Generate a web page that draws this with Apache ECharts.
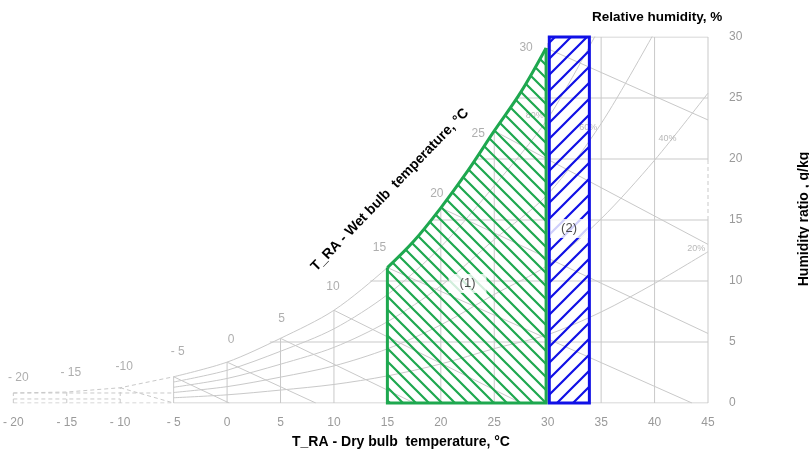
<!DOCTYPE html>
<html><head><meta charset="utf-8">
<script src="https://cdn.jsdelivr.net/npm/echarts@6/dist/echarts.min.js"></script>
<style>html,body{margin:0;padding:0;background:#fff}#c{width:809px;height:456px}</style>
</head><body><div id="c"></div>
<script>
// ---------- data ----------
const xTickLabels = ['- 20','- 15','- 10','- 5','0','5','10','15','20','25','30','35','40','45'];
const yTickLabels = ['0','5','10','15','20','25','30'];

// saturation curve (100 % RH): cold dashed part and solid part
const satColdT = [-20, -15, -10, -5];
const satColdW = [0.82, 0.9, 1.25, 2.15];
const satT = [-5, 0, 5, 10, 15, 17.5, 20, 22.5, 25, 27.5, 29.85];
const satW = [2.15, 3.35, 5.3, 7.6, 11.1, 13.3, 16.0, 19.0, 22.3, 25.5, 29.1];

// relative humidity curves
const rhT  = [-5, 0, 5, 10, 15, 20, 25, 30, 35, 40, 45];
const rh20 = [0.43, 0.67, 1.06, 1.52, 2.22, 3.2, 4.46, 5.6, 7.46, 9.8, 12.4];
const rh40 = [0.86, 1.34, 2.12, 3.04, 4.44, 6.4, 8.9, 11.3, 15.1, 19.9, 25.4];
const rh60 = [1.29, 2.01, 3.18, 4.56, 6.66, 9.6, 13.4, 17.1, 22.9, 30.4];
const rh80 = [1.72, 2.68, 4.24, 6.08, 8.88, 12.8, 17.8, 23.3, 31.0];
const rhLabels = ['20%', '40%', '60%', '80%'];
const rhLabelT = [43.9, 41.2, 33.8, 28.8];
const rhLabelW = [12.7, 21.7, 22.6, 23.6];

// dry bulb lines (vertical) from W=0 to the top value
const dbT    = [-5, 0, 5, 10, 15, 20, 25, 30, 35, 40];
const dbTopW = [2.15, 3.35, 5.3, 7.6, 11.1, 16.0, 22.3, 29.5, 30, 30];
// right border at 45 °C: solid / dashed pieces
const borderT = 45;
const borderSolidW = [[0, 15.0], [19.7, 30]];
const borderDashW = [15.0, 19.7];

// humidity ratio lines (horizontal) from the saturation curve to 45 °C
const hW      = [5, 10, 15, 20, 25, 30];
const hStartT = [4.0, 13.4, 19.1, 23.3, 27.2, 30.0];

// wet bulb lines
const wbStartT = [-5, 0, 5, 10, 15, 20, 25, 29.85];
const wbStartW = [2.15, 3.35, 5.3, 7.6, 11.1, 16.0, 22.3, 29.1];
const wbEndT   = [0.2, 8.3, 17.5, 27.5, 43.5, 45, 45, 45];
const wbEndW   = [0, 0, 0, 0, 0, 5.7, 13.0, 23.2];
const wbLabels  = ['- 20','- 15','-10','- 5','0','5','10','15','20','25','30'];
const wbLabelT  = [-20, -15, -10, -5, 0, 5, 10, 15, 20, 25, 29.85];
const wbLabelW  = [0.82, 0.9, 1.25, 2.15, 3.35, 5.3, 7.6, 11.1, 16.0, 22.3, 29.1];

// cold (dashed) sketch region
const coldVertT    = [-20, -15, -10];
const coldVertTopW = [0.82, 0.9, 1.25];
const coldHorizW    = [0.82, 0.33, 0];
const coldHorizEndT = [-5, -10, -5];
const coldWbT = [-10, -5];
const coldWbW = [1.25, 0];

// regions: (1) bounded by 15 °C, saturation curve and 29.85 °C ; (2) rectangle
const greenCurveT = [15, 17.5, 20, 22.5, 25, 27.5, 29.85];
const greenCurveW = [11.1, 13.3, 16.0, 19.0, 22.3, 25.5, 29.1];
const blueT  = [30.15, 30.15, 33.9, 33.9];
const blueW  = [0, 30, 30, 0];
const regionNames  = ['(1)', '(2)'];
const regionLabelT = [22.5, 32.0];
const regionLabelW = [9.8, 14.3];

// ---------- styles ----------
const GREY = '#c9c9c9';
const TXT = '#9a9a9a';
const GREEN = '#1ea84f';
const BLUE = '#1010e6';
const FONT = '"Liberation Sans", Arial, sans-serif';
const wbLabelNudge = [[5,-15],[4,-19],[4,-21],[4,-25],[4,-22],[1,-20],[-1,-24],[-8,-20],[-4,-14],[-16,3],[-20,0]];

function hatch(color, step, lw, dir) {
  const c = document.createElement('canvas');
  c.width = step; c.height = step;
  const g = c.getContext('2d');
  g.strokeStyle = color; g.lineWidth = lw;
  g.beginPath();
  for (let k = -1; k <= 2; k++) {
    const cc = k * step;
    if (dir === '/') { g.moveTo(cc + 3, -3); g.lineTo(cc - step - 3, step + 3); }
    else { g.moveTo(-3, cc - 3); g.lineTo(step + 3, cc + step + 3); }
  }
  g.stroke();
  return { image: c, repeat: 'repeat' };
}

const pair = (xs, ys) => xs.map((x, i) => [x, ys[i]]);
const series = [];
function line(data, extra) {
  series.push(Object.assign({
    type: 'line', data, symbol: 'none', silent: true, animation: false, z: 1,
    lineStyle: { color: GREY, width: 1 }
  }, extra || {}));
}
const dashed = { lineStyle: { color: GREY, width: 1, type: [4, 3] } };

// cold dashed sketch
line(pair(satColdT, satColdW), dashed);
coldVertT.forEach((t, i) => line([[t, 0], [t, coldVertTopW[i]]], dashed));
coldHorizW.forEach((w, i) => line([[-20, w], [coldHorizEndT[i], w]], dashed));
line(pair(coldWbT, coldWbW), dashed);

// saturation curve
line(pair(satT, satW), { smooth: 0.3 });
// bottom line
line([[-5, 0], [45, 0]]);
// dry bulb lines
dbT.forEach((t, i) => line([[t, 0], [t, dbTopW[i]]]));
borderSolidW.forEach(r => line([[borderT, r[0]], [borderT, r[1]]]));
line([[borderT, borderDashW[0]], [borderT, borderDashW[1]]], dashed);
// humidity ratio lines
hW.forEach((w, i) => line([[hStartT[i], w], [45, w]]));
// RH curves
[rh20, rh40, rh60, rh80].forEach(arr => line(arr.map((w, i) => [rhT[i], w]), { smooth: 0.3 }));
// wet bulb lines
wbStartT.forEach((t, i) => line([[t, wbStartW[i]], [wbEndT[i], wbEndW[i]]]));

// RH labels
series.push({
  type: 'scatter', silent: true, animation: false, z: 2, symbolSize: 1,
  itemStyle: { color: 'rgba(0,0,0,0)' },
  data: rhLabels.map((n, i) => ({ value: [rhLabelT[i], rhLabelW[i]], name: n })),
  label: { show: true, position: 'inside', formatter: p => p.name, color: '#a8a8a8', fontSize: 9, fontFamily: FONT }
});
// wet bulb labels
series.push({
  type: 'scatter', silent: true, animation: false, z: 2, symbolSize: 1,
  itemStyle: { color: 'rgba(0,0,0,0)' },
  data: wbLabels.map((n, i) => ({
    value: [wbLabelT[i], wbLabelW[i]], name: n,
    label: { offset: wbLabelNudge[i] }
  })),
  label: { show: true, position: 'inside', formatter: p => p.name, color: TXT, fontSize: 12, fontFamily: FONT }
});

// region (1): hatched fill + smooth curved edge + straight edges
const greenPattern = hatch(GREEN, 13, 2.2, '\\');
series.push({
  type: 'custom', coordinateSystem: 'cartesian2d', silent: true, animation: false, z: 3,
  clip: false, data: [[greenCurveT[0], 0]],
  renderItem: (params, api) => {
    const curve = greenCurveT.map((t, i) => api.coord([t, greenCurveW[i]]));
    const last = greenCurveT.length - 1;
    const b0 = api.coord([greenCurveT[0], 0]);
    const b1 = api.coord([greenCurveT[last], 0]);
    return {
      type: 'group',
      children: [
        { type: 'polygon', shape: { points: [b0].concat(curve, [b1]) },
          style: { fill: greenPattern, stroke: null } },
        { type: 'polyline', shape: { points: curve, smooth: 0.35 },
          style: { fill: null, stroke: GREEN, lineWidth: 3, lineJoin: 'round' } },
        { type: 'polyline', shape: { points: [curve[0], b0, b1, curve[last]] },
          style: { fill: null, stroke: GREEN, lineWidth: 3, lineJoin: 'miter' } }
      ]
    };
  }
});
// region (2)
const bluePattern = hatch(BLUE, 16, 2.2, '/');
series.push({
  type: 'custom', coordinateSystem: 'cartesian2d', silent: true, animation: false, z: 3,
  clip: false, data: [[blueT[0], blueW[0]]],
  renderItem: (params, api) => ({
    type: 'polygon',
    shape: { points: blueT.map((t, i) => api.coord([t, blueW[i]])) },
    style: { fill: bluePattern, stroke: BLUE, lineWidth: 3, lineJoin: 'miter' }
  })
});

// region labels
series.push({
  type: 'scatter', silent: true, animation: false, z: 5, symbolSize: 1,
  itemStyle: { color: 'rgba(0,0,0,0)' },
  data: regionNames.map((n, i) => ({ value: [regionLabelT[i], regionLabelW[i]], name: n })),
  label: { show: true, position: 'inside', formatter: p => p.name, color: '#222', fontSize: 13,
    fontFamily: FONT, backgroundColor: '#fff', padding: [3, 11, 3, 11] }
});

const chart = echarts.init(document.getElementById('c'));
chart.setOption({
  animation: false,
  backgroundColor: '#fff',
  grid: { left: 12, right: 101, top: 37, bottom: 53, containLabel: false },
  xAxis: {
    type: 'value', min: -20, max: 45, interval: 5,
    axisLine: { show: false }, axisTick: { show: false }, splitLine: { show: false },
    axisLabel: { color: TXT, fontSize: 12, fontFamily: FONT, margin: 14,
      formatter: v => xTickLabels[Math.round((v + 20) / 5)] }
  },
  yAxis: {
    type: 'value', position: 'right', min: 0, max: 30, interval: 5,
    axisLine: { show: false }, axisTick: { show: false }, splitLine: { show: false },
    axisLabel: { color: TXT, fontSize: 12, fontFamily: FONT, margin: 21,
      formatter: v => yTickLabels[Math.round(v / 5)] }
  },
  graphic: [
    { type: 'text', left: 592, top: 10, silent: true,
      style: { text: 'Relative humidity, %', fill: '#000', font: 'bold 13.5px ' + FONT } },
    { type: 'text', x: 401, y: 442, silent: true,
      style: { text: 'T_RA - Dry bulb  temperature, °C', fill: '#000', font: 'bold 14px ' + FONT,
        textAlign: 'center', textVerticalAlign: 'middle' } },
    { type: 'text', x: 390, y: 190, rotation: 46 * Math.PI / 180, silent: true,
      style: { text: 'T_RA - Wet bulb  temperature, °C', fill: '#000', font: 'bold 14px ' + FONT,
        textAlign: 'center', textVerticalAlign: 'middle' } },
    { type: 'text', x: 804, y: 219, rotation: Math.PI / 2, silent: true,
      style: { text: 'Humidity ratio , g/kg', fill: '#000', font: 'bold 14px ' + FONT,
        textAlign: 'center', textVerticalAlign: 'middle' } }
  ],
  series
});
</script></body></html>
